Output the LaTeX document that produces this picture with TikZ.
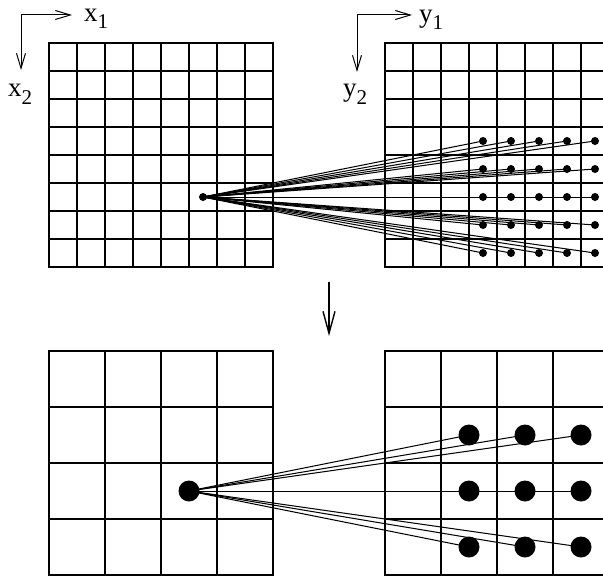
\documentclass[tikz,border=0pt]{standalone}
\usepackage{fontspec}
\setmainfont{Liberation Serif}
\usetikzlibrary{arrows.meta}
\newcommand\sbs[1]{\raisebox{-7pt}{\fontsize{21}{21}\selectfont #1}}
\begin{document}
\begin{tikzpicture}[x=1pt,y=-1pt,
  gridline/.style={line width=1.1pt},
  border/.style={line width=1.5pt},
  sdot/.style={circle,fill,inner sep=0pt,minimum size=8pt},
  bdot/.style={circle,fill,inner sep=0pt,minimum size=21pt},
  fan/.style={line width=1pt},
  axis/.style={line width=1pt,-{Straight Barb[length=15pt,width=9pt]}},
  bigarrow/.style={line width=1.4pt,-{Straight Barb[length=22pt,width=12pt]}},
  lbl/.style={anchor=base west,inner sep=0pt,font=\fontsize{27}{27}\selectfont}]
\useasboundingbox (0,0) rectangle (603,578);
\clip (0,0) rectangle (603,578);
% top-left grid
\foreach \i in {0,...,8} {
  \draw[gridline] (49+28*\i,43) -- (49+28*\i,267);
  \draw[gridline] (49,43+28*\i) -- (273,43+28*\i);
}
\draw[border] (49,43) rectangle (273,267);
% top-right grid
\foreach \i in {0,...,8} {
  \draw[gridline] (385+28*\i,43) -- (385+28*\i,267);
  \draw[gridline] (385,43+28*\i) -- (609,43+28*\i);
}
\draw[border] (385,43) rectangle (609,267);
% bottom-left grid
\foreach \i in {0,...,4} {
  \draw[gridline] (49+56*\i,351) -- (49+56*\i,575);
  \draw[gridline] (49,351+56*\i) -- (273,351+56*\i);
}
\draw[border] (49,351) rectangle (273,575);
% bottom-right grid
\foreach \i in {0,...,4} {
  \draw[gridline] (385+56*\i,351) -- (385+56*\i,575);
  \draw[gridline] (385,351+56*\i) -- (609,351+56*\i);
}
\draw[border] (385,351) rectangle (609,575);
% axes
\coordinate (o1) at (21,15);
\coordinate (o1x) at (72,15);
\coordinate (o1y) at (21,70);
\draw[axis] (o1) -- (o1x);
\draw[axis] (o1) -- (o1y);
\coordinate (o2) at (357,15);
\coordinate (o2x) at (412,15);
\coordinate (o2y) at (357,72);
\draw[axis] (o2) -- (o2x);
\draw[axis] (o2) -- (o2y);
\node[lbl] (lx1) at (84,22) {x\sbs{1}};
\node[lbl] (lx2) at (8,97) {x\sbs{2}};
\node[lbl] (ly1) at (419,23) {y\sbs{1}};
\node[lbl] (ly2) at (343,97) {y\sbs{2}};
% top dots
\node[sdot] (s) at (203,197) {};
\foreach \c in {3,...,7} {
  \foreach \r in {3,...,7} {
    \node[sdot] (t-\c-\r) at (385+28*\c+14,43+28*\r+14) {};
    \draw[fan] (s.center) -- (t-\c-\r.center);
  }
}
% down arrow
\coordinate (d1) at (329,282);
\coordinate (d2) at (329,336);
\draw[bigarrow] (d1) -- (d2);
% bottom dots
\node[bdot] (b) at (189,491) {};
\foreach \c in {1,2,3} {
  \foreach \r in {1,2,3} {
    \node[bdot] (u-\c-\r) at (385+56*\c+28,351+56*\r+28) {};
    \draw[fan] (b.center) -- (u-\c-\r.center);
  }
}
\end{tikzpicture}
\end{document}
